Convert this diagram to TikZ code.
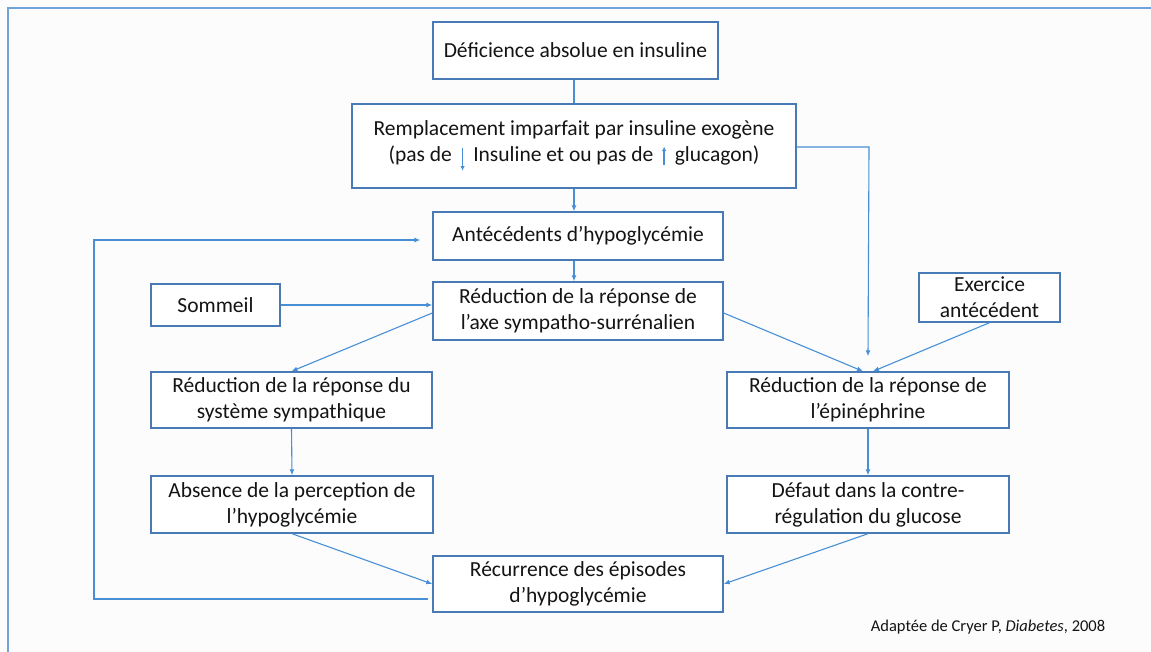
\documentclass[tikz,border=0pt]{standalone}
\usepackage{fontspec}
\setmainfont{Carlito}
\usetikzlibrary{arrows.meta}
\definecolor{boxblue}{RGB}{72,122,182}
\definecolor{linkblue}{RGB}{72,144,214}
\definecolor{frameblue}{RGB}{112,162,222}
\definecolor{txt}{RGB}{20,20,20}
\definecolor{paper}{RGB}{252,252,252}
\tikzset{
  stepbox/.style={draw=boxblue, line width=1.4pt, fill=white, inner sep=0pt,
    align=center, text=txt, font=\fontsize{21.5}{26}\selectfont},
  link/.style={draw=linkblue, line width=1.1pt},
  arr/.style={link, -{Latex[length=6pt,width=5pt]}},
}
% small vertical arrow set inside a line of text
\newcommand{\tinyarrow}[2]{\tikz[baseline=0pt]\draw[draw=linkblue, line width=1.5pt,
  -{Latex[length=4.5pt,width=4.5pt]}] (0pt,#1) -- (0pt,#2);}
\begin{document}
\begin{tikzpicture}[x=1pt,y=-1pt]
  % page and frame
  \fill[paper] (0,0) rectangle (1151,652);
  \useasboundingbox (0,0) rectangle (1151,652);
  \draw[frameblue, line width=2.4pt] (8,652) -- (8,8) -- (1151,8);

  % boxes
  \node[stepbox, minimum width=285pt, minimum height=57pt] (def1) at (575.5,50.5)
    {Déficience absolue en insuline};
  \node[stepbox, minimum width=444pt, minimum height=84pt] (rem) at (574,146)
    {Remplacement imparfait par insuline exogène\\
     (pas de\, \tinyarrow{14pt}{-9pt}\, Insuline et ou pas de\, \tinyarrow{-3pt}{15pt}\, glucagon)};
  \node[stepbox, minimum width=290pt, minimum height=48pt] (ant) at (578,236)
    {Antécédents d’hypoglycémie};
  \node[stepbox, minimum width=290pt, minimum height=58pt] (red4) at (578,311)
    {Réduction de la réponse de\\ l’axe sympatho-surrénalien};
  \node[stepbox, minimum width=129pt, minimum height=42pt] (som) at (215.5,305)
    {Sommeil};
  \node[stepbox, minimum width=141pt, minimum height=49pt] (exo) at (989.5,297.5)
    {Exercice\\ antécédent};
  \node[stepbox, minimum width=281pt, minimum height=56pt] (lsym) at (291.5,400)
    {Réduction de la réponse du\\ système sympathique};
  \node[stepbox, minimum width=282pt, minimum height=56pt] (repi) at (868,400)
    {Réduction de la réponse de\\ l’épinéphrine};
  \node[stepbox, minimum width=282pt, minimum height=57pt] (absp) at (292,504.5)
    {Absence de la perception de\\ l’hypoglycémie};
  \node[stepbox, minimum width=282pt, minimum height=57pt] (dfc) at (868,504.5)
    {Défaut dans la contre-\\ régulation du glucose};
  \node[stepbox, minimum width=290pt, minimum height=56pt] (rec) at (578,584)
    {Récurrence des épisodes\\ d’hypoglycémie};

  % source note
  \node[text=txt, font=\fontsize{16.5}{19}\selectfont, anchor=base] (src) at (988,631)
    {Adaptée de Cryer P, \textit{Diabetes}, 2008};

  % connectors
  \draw[link] (def1.south -| rem.south) -- (rem.north);
  \draw[arr] (rem.south) -- (rem.south |- ant.north);
  \draw[arr] (rem.south |- ant.south) -- (rem.south |- red4.north);
  \coordinate (rr) at (869,147);
  \draw[arr] (rem.east |- rr) -- (rr) -- ([yshift=15pt]repi.north);
  \draw[arr] (som.east) -- (som.east -| red4.west);
  \draw[arr] ([yshift=-2pt]red4.west) -- (lsym.north);
  \draw[arr] ([yshift=-2pt]red4.east) -- ([xshift=-5pt]repi.north);
  \draw[arr] (exo.south) -- ([xshift=5pt]repi.north);
  \draw[arr] (lsym.south) -- (absp.north);
  \draw[arr] (repi.south) -- (dfc.north);
  \draw[arr] (absp.south) -- (rec.west);
  \draw[arr] (dfc.south) -- (rec.east);

  % feedback loop
  \coordinate (lb) at (94,599);
  \coordinate (lt) at (94,240);
  \draw[arr] ([xshift=-4pt,yshift=-15pt]rec.west) -- (lb) -- (lt) -- ([xshift=-12pt]ant.west |- lt);
\end{tikzpicture}
\end{document}
